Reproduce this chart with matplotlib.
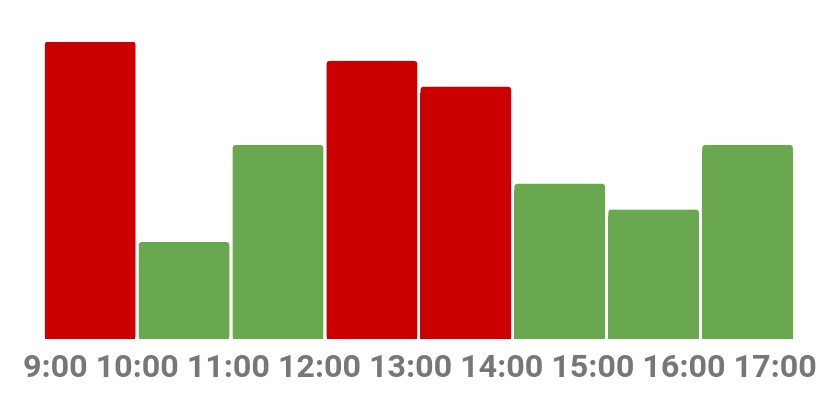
import matplotlib.pyplot as plt
from matplotlib.patches import FancyBboxPatch

hours = ['9:00', '10:00', '11:00', '12:00', '13:00', '14:00', '15:00', '16:00', '17:00']
values = [46, 15, 30, 43, 39, 24, 20, 30]
colors = ['#cc0000', '#6aa84f', '#6aa84f', '#cc0000', '#cc0000',
          '#6aa84f', '#6aa84f', '#6aa84f']

W, H = 840, 401
fig = plt.figure(figsize=(W / 100, H / 100), dpi=100)
ax_w, ax_h = 794.5 - 43.2, 297.5
ax = fig.add_axes([43.2 / W, 62 / H, ax_w / W, ax_h / H])

n = len(values)
bars = ax.bar(range(n), values, width=0.965, color=colors)
ax.set_xlim(-0.5, n - 0.5)
ax.set_ylim(0, max(values))
ax.axis('off')

# rounded top corners: y/x data units per pixel
aspect = (max(values) / ax_h) / (n / ax_w)
for rect, c in zip(bars, colors):
    x, w, h = rect.get_x(), rect.get_width(), rect.get_height()
    rect.set_height(h - 1)
    ax.add_patch(FancyBboxPatch((x, 0), w, h, boxstyle='round,pad=0,rounding_size=0.035',
                                mutation_aspect=aspect, color=c, lw=0))

# hour labels run as one line of text under the bars
fig.text(0.5, (H - 368) / H, ' '.join(hours), ha='center', va='center',
         fontsize=23.2, fontweight='bold', family=['Roboto', 'DejaVu Sans'],
         color='#777777')

plt.savefig('out.png', dpi=100)
